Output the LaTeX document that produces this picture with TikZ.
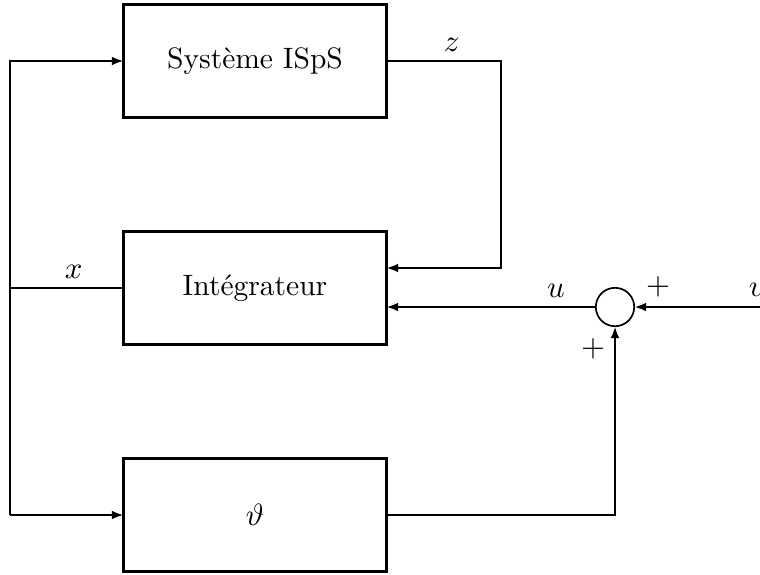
\documentclass[tikz,border=0pt]{standalone}
\usepackage{amsmath,amssymb}
\usepackage{tikz}
\usetikzlibrary{positioning,arrows.meta,calc}
\tikzset{
  >={Latex[length=1.5mm,width=1.1mm]},
  blk/.style={draw,line width=1pt,minimum width=32.8mm,minimum height=14.1mm,
    inner sep=0pt,outer sep=0pt,font=\fontsize{10.5}{12}\selectfont},
  sumnd/.style={draw,circle,line width=0.6pt,minimum size=4.8mm,inner sep=0pt,
    outer sep=0pt},
  sig/.style={line width=1pt},
  sigthin/.style={line width=0.6pt},
  siglbl/.style={inner sep=3pt,font=\fontsize{10.5}{12}\selectfont},
}

\begin{document}
\begin{tikzpicture}
  \useasboundingbox (0,0) rectangle (9.5,7.175);
  % blocs
  \node[blk] (sys) at (3.1875,6.4125) {Système ISpS};
  \node[blk] (integ) at (3.1875,3.575) {Intégrateur};
  \node[blk] (phi) at (3.1875,0.7375) {$\vartheta$};
  \node[sumnd] (sum) at (7.6875,3.3375) {};
  \coordinate (ltop) at (0.125,6.4125);
  \coordinate (lbot) at (0.125,0.7375);
  \coordinate (zc) at (6.2625,6.4125);
  \coordinate (vin) at (9.5,3.3375);
  \node[siglbl] (vl) at (9.46,3.55) {$v$};
  % retour de x
  \draw[sig,->] (lbot) -- (ltop) -- (sys.west);
  \draw[sig,->] (lbot) -- (phi.west);
  \draw[sigthin] (lbot |- integ.west) -- node[pos=0.56,above,siglbl] {$x$} (integ.west);
  % sortie z
  \draw[sig,->] (sys.east) -- node[pos=0.57,above,siglbl] {$z$} (zc)
    |- ($(integ.east)+(0,0.25)$);
  % sommateur
  \draw[sig,->] (vin) -- node[pos=0.81,above,siglbl] {$+$} (sum.east);
  \draw[sig,->] (sum.west) -- node[pos=0.19,above,siglbl] {$u$} (integ.east |- sum);
  \draw[sig,->] (phi.east) -| node[pos=0.94,left,siglbl] {$+$} (sum.south);
\end{tikzpicture}
\end{document}
